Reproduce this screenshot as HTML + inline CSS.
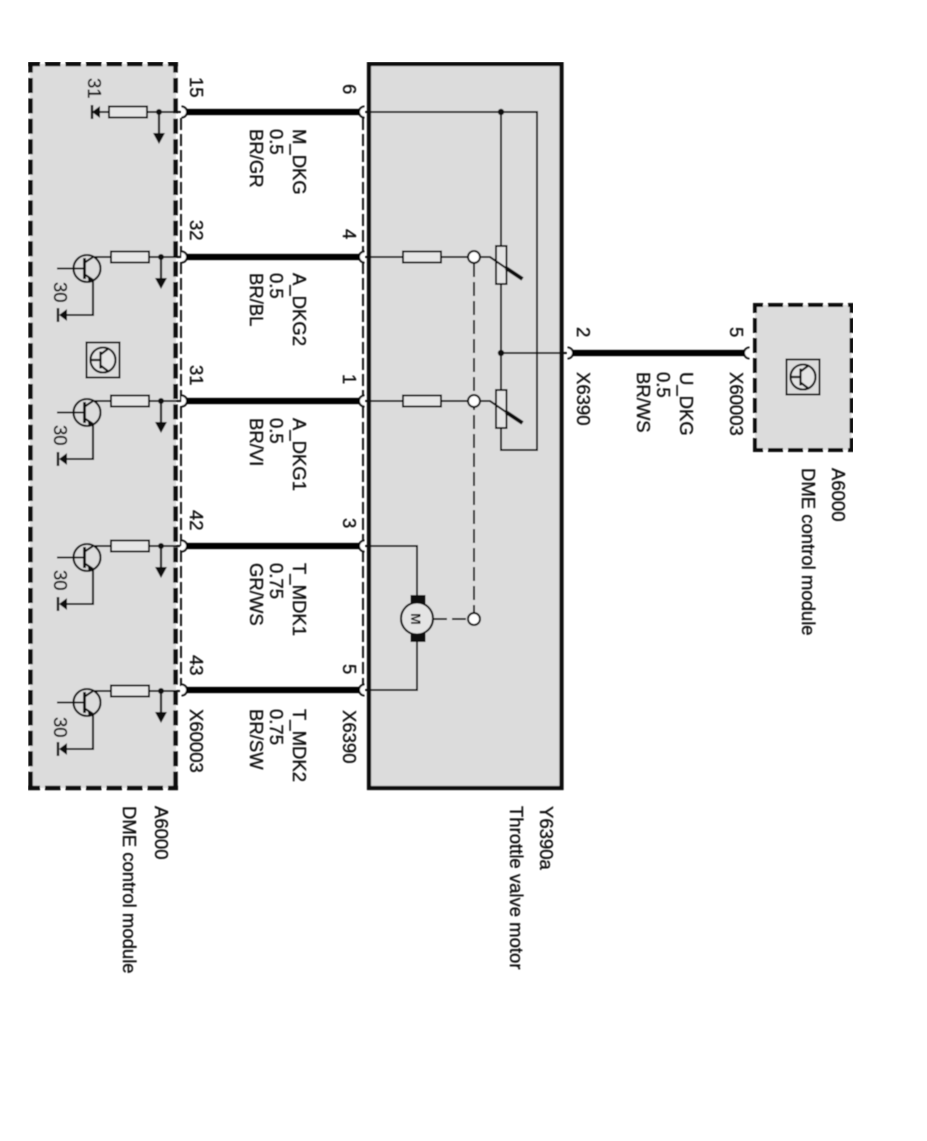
<!DOCTYPE html>
<html>
<head>
<meta charset="utf-8">
<style>
html,body{margin:0;padding:0;background:#fff;width:927px;height:1141px;overflow:hidden}
svg{display:block}
text{font-family:"Liberation Sans",sans-serif;font-size:18.5px;fill:#111;stroke:#111;stroke-width:.35px}
</style>
</head>
<body>
<svg width="927" height="1141" viewBox="0 0 927 1141" xmlns="http://www.w3.org/2000/svg">
<defs>
<filter id="b" x="0" y="0" width="100%" height="100%"><feGaussianBlur stdDeviation="0.4"/></filter>
<g id="res"><rect x="0" y="-5.500" width="38" height="11" fill="#e6e6e6" stroke="#111" stroke-width="2"/></g>
<g id="arrow">
<line x1="0" y1="0" x2="0" y2="24" stroke="#111" stroke-width="2.200"/>
<circle cx="0" cy="0" r="3" fill="#111"/>
<path d="M-6 21 H6 L0 32 Z" fill="#111"/>
</g>
<g id="tr">
<line x1="93" y1="0" x2="180" y2="0" stroke="#111" stroke-width="2"/>
<circle cx="87" cy="11.500" r="13.500" fill="none" stroke="#111" stroke-width="2.100"/>
<line x1="57" y1="11.500" x2="84" y2="11.500" stroke="#111" stroke-width="2"/>
<line x1="84.500" y1="1" x2="84.500" y2="22" stroke="#111" stroke-width="2.800"/>
<path d="M84 6 L93 0 M84 17 L93 23 V58 H60" fill="none" stroke="#111" stroke-width="2.100"/>
<path d="M88 19 L94 23 L89 24 Z" fill="#111" stroke="#111"/>
<path d="M67 52 V64 L59 58 Z" fill="#111"/>
<line x1="58" y1="51" x2="58" y2="65" stroke="#111" stroke-width="2.400"/>
</g>
<g id="sym">
<rect x="0" y="0" width="33" height="35" fill="#dcdcdc" stroke="#111" stroke-width="2"/>
<circle cx="16.500" cy="17.500" r="12.500" fill="#e4e4e4" stroke="#111" stroke-width="2.100"/>
<path d="M4 17.500 H14 M14 9 V26 M14 12 L22 6 M14 23 L22 29" fill="none" stroke="#111" stroke-width="2.200"/>
</g>
<g id="pot">
<rect x="-5" y="-11" width="10.500" height="38" fill="#e4e4e4" stroke="#111" stroke-width="2"/>
<path d="M-20 0 H-11 L21 22" fill="none" stroke="#111" stroke-width="2"/>
<path d="M5 11 L21.500 22" stroke="#111" stroke-width="4" fill="none"/>
</g>
</defs>

<g filter="url(#b)">
<!-- boxes -->
<rect x="30" y="64" width="146" height="724" fill="#dcdcdc"/>
<g stroke="#111" stroke-width="4.500" fill="none">
<line x1="28" y1="64" x2="178" y2="64" stroke-dasharray="15.500 5" stroke-dashoffset="3.500"/>
<line x1="28" y1="788" x2="178" y2="788" stroke-dasharray="15.500 5" stroke-dashoffset="3.500"/>
<line x1="30.500" y1="62" x2="30.500" y2="790" stroke-dasharray="15 5.400" stroke-dashoffset="4.400"/>
<line x1="175.500" y1="62" x2="175.500" y2="790" stroke-dasharray="15 5.400" stroke-dashoffset="4.400"/>
</g>
<rect x="369" y="64" width="192.500" height="724" fill="#dcdcdc" stroke="#111" stroke-width="4.200"/>
<rect x="755" y="305" width="96.500" height="145" fill="#dcdcdc"/>
<g stroke="#111" stroke-width="4" fill="none">
<line x1="753" y1="305" x2="853" y2="305" stroke-dasharray="15 5" stroke-dashoffset="5"/>
<line x1="753" y1="450" x2="853" y2="450" stroke-dasharray="15 5" stroke-dashoffset="5"/>
<line x1="755" y1="303" x2="755" y2="452" stroke-dasharray="15 5" stroke-dashoffset="5"/>
<line x1="851.500" y1="303" x2="851.500" y2="452" stroke-dasharray="15 5" stroke-dashoffset="5"/>
</g>

<!-- thin dashed connector edges -->
<line x1="181" y1="118" x2="181" y2="686" stroke="#111" stroke-width="1.900" stroke-dasharray="12 4"/>
<line x1="363" y1="118" x2="363" y2="686" stroke="#111" stroke-width="1.900" stroke-dasharray="12 4"/>

<!-- connectors -->
<g fill="#fff" stroke="#111" stroke-width="2">
<path d="M181.500 106.500 A5.500 5.500 0 0 1 181.500 117.500"/>
<path d="M181.500 251.500 A5.500 5.500 0 0 1 181.500 262.500"/>
<path d="M181.500 395.500 A5.500 5.500 0 0 1 181.500 406.500"/>
<path d="M181.500 540.500 A5.500 5.500 0 0 1 181.500 551.500"/>
<path d="M181.500 684.500 A5.500 5.500 0 0 1 181.500 695.500"/>
<path d="M364.500 106.500 A5.500 5.500 0 0 0 364.500 117.500"/>
<path d="M364.500 251.500 A5.500 5.500 0 0 0 364.500 262.500"/>
<path d="M364.500 395.500 A5.500 5.500 0 0 0 364.500 406.500"/>
<path d="M364.500 540.500 A5.500 5.500 0 0 0 364.500 551.500"/>
<path d="M364.500 684.500 A5.500 5.500 0 0 0 364.500 695.500"/>
<path d="M567.500 347.500 A5.500 5.500 0 0 1 567.500 358.500"/>
<path d="M749.500 347.500 A5.500 5.500 0 0 0 749.500 358.500"/>
</g>

<!-- thick wires -->
<g stroke="#000" stroke-width="6.200">
<line x1="187" y1="112" x2="359" y2="112"/>
<line x1="187" y1="257" x2="359" y2="257"/>
<line x1="187" y1="401" x2="359" y2="401"/>
<line x1="187" y1="546" x2="359" y2="546"/>
<line x1="187" y1="690" x2="359" y2="690"/>
<line x1="573" y1="353" x2="744" y2="353"/>
</g>

<!-- left row 1 -->
<line x1="93" y1="112" x2="181" y2="112" stroke="#111" stroke-width="2"/>
<path d="M100 106 V118 L92 112 Z" fill="#111"/>
<line x1="92" y1="105" x2="92" y2="119" stroke="#111" stroke-width="2.400"/>
<use href="#res" x="109" y="112"/>
<use href="#arrow" x="159" y="112"/>

<!-- left transistor rows -->
<use href="#tr" y="257"/>
<use href="#res" x="111" y="257"/>
<use href="#arrow" x="161" y="257"/>
<use href="#tr" y="401"/>
<use href="#res" x="111" y="401"/>
<use href="#arrow" x="161" y="401"/>
<use href="#tr" y="546"/>
<use href="#res" x="111" y="546"/>
<use href="#arrow" x="161" y="546"/>
<use href="#tr" y="691"/>
<use href="#res" x="111" y="691"/>
<use href="#arrow" x="161" y="691"/>

<use href="#sym" x="86.500" y="342.500"/>
<use href="#sym" x="786.500" y="359.500"/>

<!-- throttle internals -->
<g fill="none" stroke="#111" stroke-width="2">
<path d="M365 112 H537 V450 H501 V112"/>
<line x1="501" y1="353" x2="567" y2="353"/>
<line x1="365" y1="257" x2="468" y2="257"/>
<line x1="365" y1="401" x2="468" y2="401"/>
<path d="M365 546 H417 V600 M417 640 V690 H365"/>
<line x1="474" y1="263" x2="474" y2="613" stroke-dasharray="14 5"/>
<line x1="433" y1="619" x2="468" y2="619" stroke-dasharray="14 5"/>
</g>
<circle cx="501" cy="112" r="3.200" fill="#111"/>
<circle cx="501" cy="353" r="3.200" fill="#111"/>
<use href="#res" x="403" y="257"/>
<use href="#res" x="403" y="401"/>
<use href="#pot" x="501" y="257"/>
<use href="#pot" x="501" y="401"/>
<g fill="#fff" stroke="#111" stroke-width="2">
<circle cx="474" cy="257" r="6"/>
<circle cx="474" cy="401" r="6"/>
<circle cx="474" cy="619" r="6"/>
</g>
<rect x="410.500" y="595" width="15" height="9" fill="#111"/>
<rect x="410.500" y="633" width="15" height="9" fill="#111"/>
<circle cx="417" cy="618.500" r="16" fill="#e4e4e4" stroke="#111" stroke-width="2.100"/>
<text transform="translate(411 613) rotate(90)" style="font-size:14px;font-weight:bold;stroke-width:0">M</text>

<!-- labels -->
<g>
<text transform="translate(88 78) rotate(90)">31</text>
<text transform="translate(54 282) rotate(90)">30</text>
<text transform="translate(54 425) rotate(90)">30</text>
<text transform="translate(54 570) rotate(90)">30</text>
<text transform="translate(54 717) rotate(90)">30</text>

<text transform="translate(190 77) rotate(90)">15</text>
<text transform="translate(190 220) rotate(90)">32</text>
<text transform="translate(190 365) rotate(90)">31</text>
<text transform="translate(190 510) rotate(90)">42</text>
<text transform="translate(190 655) rotate(90)">43</text>
<text transform="translate(190 709) rotate(90)">X60003</text>

<text transform="translate(343 84) rotate(90)">6</text>
<text transform="translate(343 229) rotate(90)">4</text>
<text transform="translate(343 374) rotate(90)">1</text>
<text transform="translate(343 518) rotate(90)">3</text>
<text transform="translate(343 664) rotate(90)">5</text>
<text transform="translate(343 710) rotate(90)">X6390</text>

<text transform="translate(293 129) rotate(90)">M_DKG</text>
<text transform="translate(270 129) rotate(90)">0.5</text>
<text transform="translate(250 129) rotate(90)">BR/GR</text>

<text transform="translate(293 273) rotate(90)">A_DKG2</text>
<text transform="translate(270 273) rotate(90)">0.5</text>
<text transform="translate(250 273) rotate(90)">BR/BL</text>

<text transform="translate(293 418) rotate(90)">A_DKG1</text>
<text transform="translate(270 418) rotate(90)">0.5</text>
<text transform="translate(250 418) rotate(90)">BR/VI</text>

<text transform="translate(293 563) rotate(90)">T_MDK1</text>
<text transform="translate(270 563) rotate(90)">0.75</text>
<text transform="translate(250 563) rotate(90)">GR/WS</text>

<text transform="translate(293 709) rotate(90)">T_MDK2</text>
<text transform="translate(270 709) rotate(90)">0.75</text>
<text transform="translate(250 709) rotate(90)">BR/SW</text>

<text transform="translate(577 327) rotate(90)">2</text>
<text transform="translate(577 372) rotate(90)">X6390</text>
<text transform="translate(730 327) rotate(90)">5</text>
<text transform="translate(730 372) rotate(90)">X60003</text>
<text transform="translate(680 372) rotate(90)">U_DKG</text>
<text transform="translate(657 372) rotate(90)">0.5</text>
<text transform="translate(637 372) rotate(90)">BR/WS</text>

<text transform="translate(832 468) rotate(90)">A6000</text>
<text transform="translate(802 468) rotate(90)">DME control module</text>
<text transform="translate(155 806) rotate(90)">A6000</text>
<text transform="translate(123 806) rotate(90)">DME control module</text>
<text transform="translate(540 806) rotate(90)">Y6390a</text>
<text transform="translate(510 806) rotate(90)">Throttle valve motor</text>
</g>
</g>
</svg>
</body>
</html>
